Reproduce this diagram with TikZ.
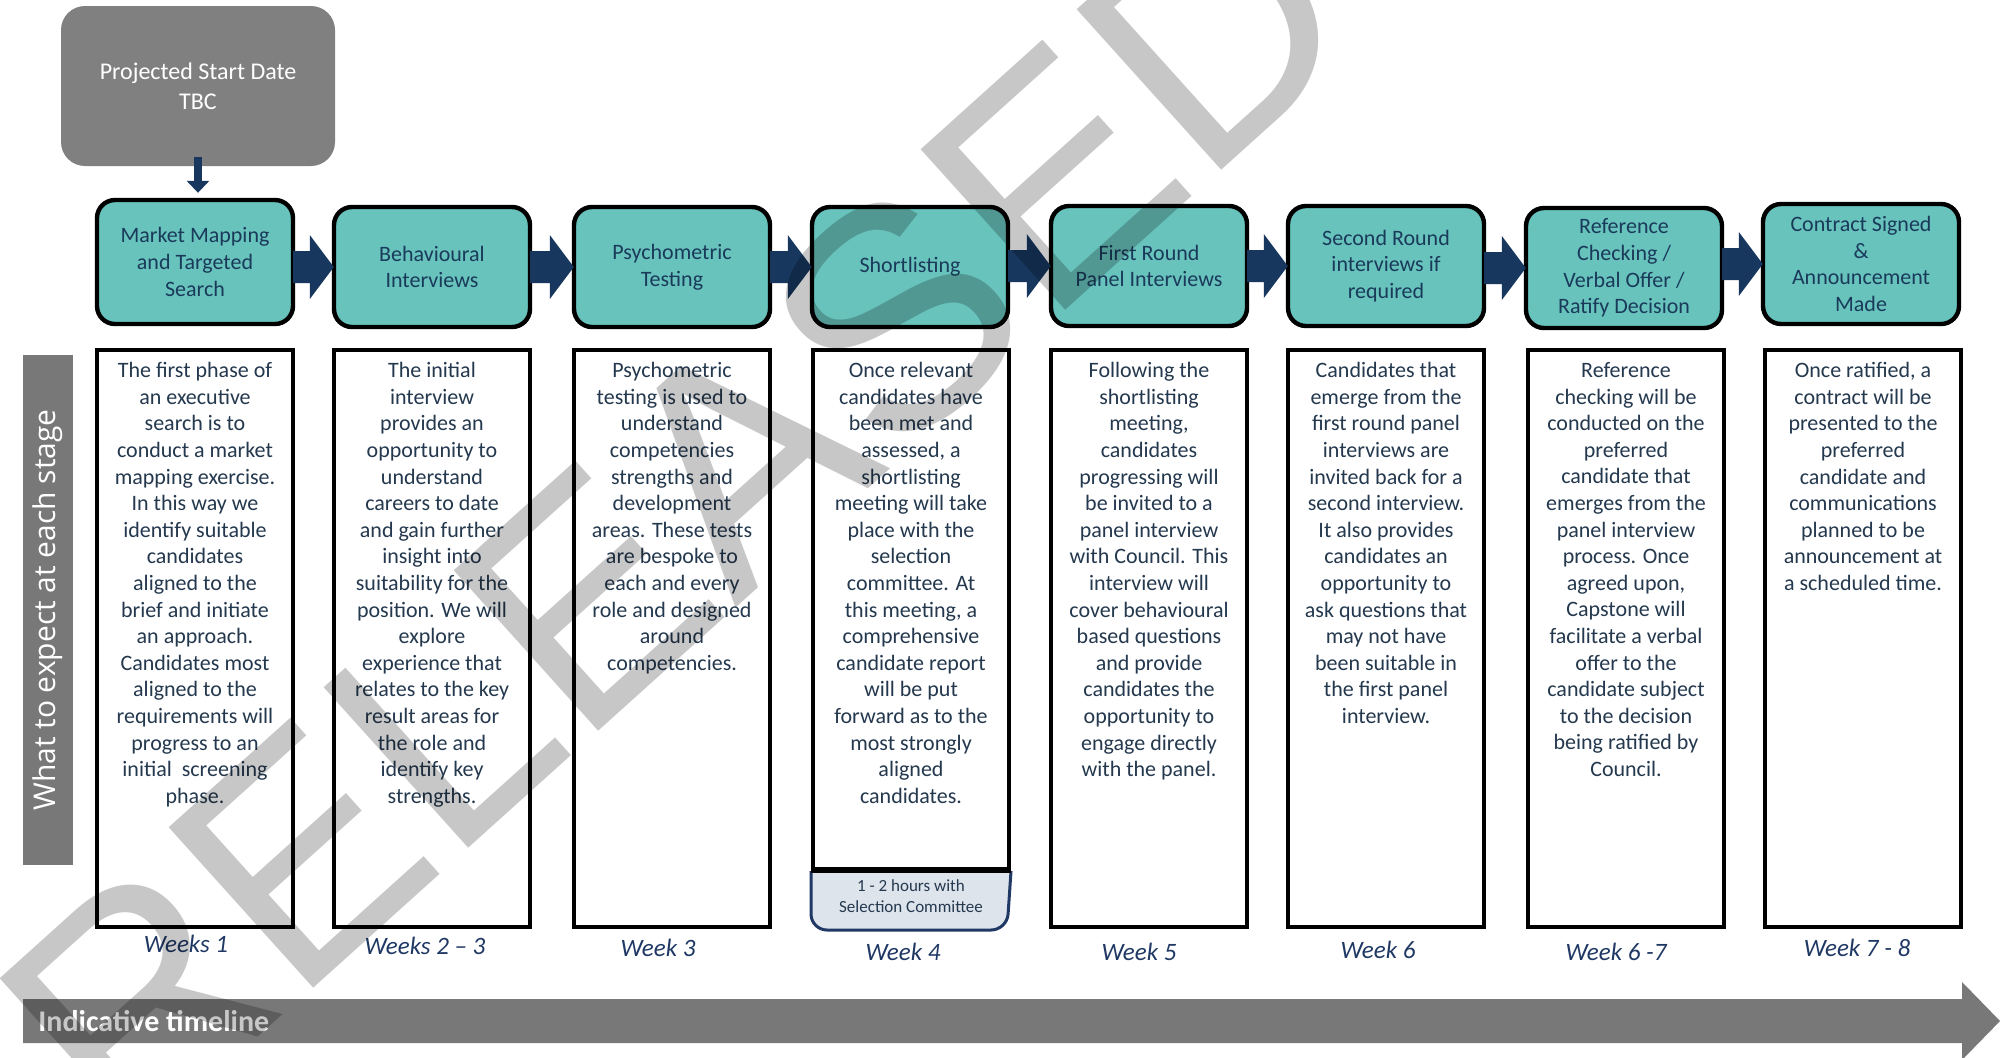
\documentclass[tikz,border=0pt]{standalone}
\usepackage{fontspec}
\setmainfont{Carlito}
\newfontfamily\sidefont{Open Sans}
\newfontfamily\wmfont{Liberation Sans}
\usetikzlibrary{calc,arrows.meta}

\definecolor{tealfill}{RGB}{104,195,189}
\definecolor{navyA}{RGB}{23,55,94}
\definecolor{titleC}{RGB}{26,58,90}
\definecolor{bodyC}{RGB}{36,56,78}
\definecolor{weekC}{RGB}{31,56,100}
\definecolor{greyBox}{RGB}{128,128,128}
\definecolor{greyBar}{RGB}{120,120,120}
\definecolor{tagFill}{RGB}{222,228,236}

% block arrow joining two stage boxes
\newcommand\stagearrow[2]{%
  \fill[navyA] let \p1=(#1.east), \p2=(#2.west) in
    (\x1-1pt,\y2+8pt) -- (\x2-11pt,\y2+8pt) -- (\x2-11pt,\y2+16pt) -- (\x2+1pt,\y2)
    -- (\x2-11pt,\y2-16pt) -- (\x2-11pt,\y2-8pt) -- (\x1-1pt,\y2-8pt) -- cycle;}

\begin{document}
\begin{tikzpicture}[x=0.5pt,y=-0.5pt,
  stagebox/.style={draw=black, line width=2.2pt, fill=tealfill, rounded corners=9pt,
    minimum width=98pt, minimum height=60pt, align=center, text=titleC,
    font=\fontsize{11}{13.4}\selectfont, inner sep=2pt},
  descbox/.style={draw=black, line width=2pt, fill=white, minimum width=98pt,
    minimum height=288.5pt, anchor=north, inner sep=0pt},
  desctext/.style={anchor=north, align=center, text=bodyC, inner sep=0pt,
    font=\fontsize{11}{13.3}\selectfont},
  weeklabel/.style={text=weekC, font=\fontsize{12.5}{14}\selectfont\itshape, inner sep=0pt},
]
\useasboundingbox (0,0) rectangle (2000,1057);
\fill[white] (0,0) rectangle (2000,1057);

% start date
\node[fill=greyBox, rounded corners=12pt, minimum width=137pt, minimum height=80pt,
  align=center, text=white, font=\fontsize{12}{15}\selectfont] (start) at (198,86)
  {Projected Start Date\\TBC};

% stage boxes
\node[stagebox, minimum height=62pt] (s1) at (195,262) {Market Mapping\\and Targeted\\Search};
\node[stagebox] (s2) at (432,267) {Behavioural\\Interviews};
\node[stagebox] (s3) at (672,267) {Psychometric\\Testing};
\node[stagebox] (s4) at (910,267) {Shortlisting};
\node[stagebox] (s5) at (1149,266) {First Round\\Panel Interviews};
\node[stagebox] (s6) at (1386,266) {Second Round\\interviews if\\required};
\node[stagebox] (s7) at (1624,268) {Reference\\Checking /\\Verbal Offer /\\Ratify Decision};
\node[stagebox] (s8) at (1861,264) {Contract Signed\\\&\\Announcement\\Made};

\stagearrow{s1}{s2}
\stagearrow{s2}{s3}
\stagearrow{s3}{s4}
\stagearrow{s4}{s5}
\stagearrow{s5}{s6}
\stagearrow{s6}{s7}
\stagearrow{s7}{s8}

\coordinate (startfoot) at ($(start.south)+(0,-9)$);
\draw[navyA, line width=4pt, -{Triangle[width=11pt,length=6pt]}]
  (startfoot) -- ($(startfoot |- s1.north)+(0,-5)$);

% side label
\node[fill=greyBar, minimum width=25pt, minimum height=255pt, inner sep=0pt] (side) at (48,610) {};
\node[rotate=90, text=white, font=\sidefont\fontsize{15}{17}\selectfont] (sidetext) at (side.center)
  {What to expect at each stage};

% description boxes
\node[descbox] (d1) at (195,348) {};
\node[descbox] (d2) at (432,348) {};
\node[descbox] (d3) at (672,348) {};
\node[descbox, minimum height=259.5pt] (d4) at (911,348) {};
\node[descbox] (d5) at (1149,348) {};
\node[descbox] (d6) at (1386,348) {};
\node[descbox] (d7) at (1626,348) {};
\node[descbox] (d8) at (1863,348) {};

\node[desctext] (t1) at ($(d1.north)+(0,14)$) {The first phase of\\an executive\\search is to\\conduct a market\\mapping exercise.\\In this way we\\identify suitable\\candidates\\aligned to the\\brief and initiate\\an approach.\\Candidates most\\aligned to the\\requirements will\\progress to an\\initial~ screening\\phase.};
\node[desctext] (t2) at ($(d2.north)+(0,14)$) {The initial\\interview\\provides an\\opportunity to\\understand\\careers to date\\and gain further\\insight into\\suitability for the\\position. We will\\explore\\experience that\\relates to the key\\result areas for\\the role and\\identify key\\strengths.};
\node[desctext] (t3) at ($(d3.north)+(0,14)$) {Psychometric\\testing is used to\\understand\\competencies\\strengths and\\development\\areas. These tests\\are bespoke to\\each and every\\role and designed\\around\\competencies.};
\node[desctext] (t4) at ($(d4.north)+(0,14)$) {Once relevant\\candidates have\\been met and\\assessed, a\\shortlisting\\meeting will take\\place with the\\selection\\committee. At\\this meeting, a\\comprehensive\\candidate report\\will be put\\forward as to the\\most strongly\\aligned\\candidates.};
\node[desctext] (t5) at ($(d5.north)+(0,14)$) {Following the\\shortlisting\\meeting,\\candidates\\progressing will\\be invited to a\\panel interview\\with Council. This\\interview will\\cover behavioural\\based questions\\and provide\\candidates the\\opportunity to\\engage directly\\with the panel.};
\node[desctext] (t6) at ($(d6.north)+(0,14)$) {Candidates that\\emerge from the\\first round panel\\interviews are\\invited back for a\\second interview.\\It also provides\\candidates an\\opportunity to\\ask questions that\\may not have\\been suitable in\\the first panel\\interview.};
\node[desctext] (t7) at ($(d7.north)+(0,14)$) {Reference\\checking will be\\conducted on the\\preferred\\candidate that\\emerges from the\\panel interview\\process. Once\\agreed upon,\\Capstone will\\facilitate a verbal\\offer to the\\candidate subject\\to the decision\\being ratified by\\Council.};
\node[desctext] (t8) at ($(d8.north)+(0,14)$) {Once ratified, a\\contract will be\\presented to the\\preferred\\candidate and\\communications\\planned to be\\announcement at\\a scheduled time.};

% meeting length tag under the shortlisting column
\filldraw[fill=tagFill, draw=weekC, line width=1.5pt, rounded corners=8pt]
  (d4.south west) -- ++(0,59) -- ++(196,0) -- (d4.south east);
\draw[black, line width=2pt] (d4.south west) -- (d4.south east);
\node[align=center, text=bodyC, font=\fontsize{8.5}{10.5}\selectfont] (tag)
  at ($(d4.south)+(0,25)$) {1 - 2 hours with\\Selection Committee};

% week labels
\node[weeklabel] (w1) at (186,944) {Weeks 1};
\node[weeklabel] (w2) at (425,946) {Weeks 2 -- 3};
\node[weeklabel] (w3) at (658,948) {Week 3};
\node[weeklabel] (w4) at (903,952) {Week 4};
\node[weeklabel] (w5) at (1139,952) {Week 5};
\node[weeklabel] (w6) at (1378,950) {Week 6};
\node[weeklabel] (w7) at (1616,952) {Week 6 -7};
\node[weeklabel] (w8) at (1857,948) {Week 7 - 8};

% timeline arrow
\fill[greyBar] (23,999) -- (1962,999) -- (1962,982) -- (2000,1021) -- (1962,1060)
  -- (1962,1043) -- (23,1043) -- cycle;
\node[anchor=west, text=white, font=\fontsize{15}{17}\selectfont\bfseries, inner sep=0pt]
  (timeline) at (38,1021) {Indicative timeline};

% translucent stamp across the sheet
\begin{scope}[opacity=0.22]
\node[rotate=42, text=black, inner sep=0pt, font=\wmfont\fontsize{157}{160}\selectfont]
  (stamp) at (676,516) {RELEASED};
\end{scope}
\end{tikzpicture}
\end{document}
